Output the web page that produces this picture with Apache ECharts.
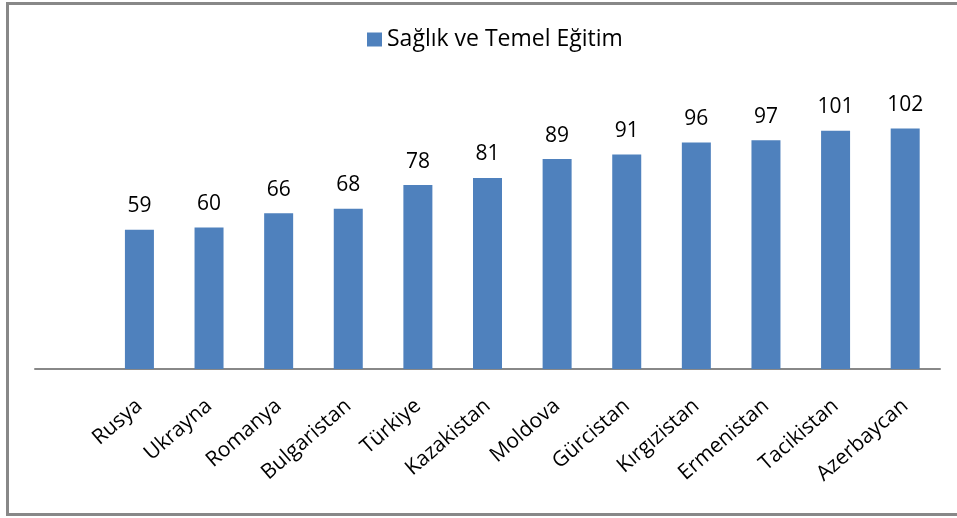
<!DOCTYPE html>
<html>
<head>
<meta charset="utf-8">
<script src="https://cdn.jsdelivr.net/npm/echarts@6/dist/echarts.min.js"></script>
<style>
    html, body { margin: 0; padding: 0; background: #fff; overflow: hidden; }
    #frame { position: absolute; left: 6px; top: 2px; width: 960px; height: 514px; border: 3px solid #888; border-right: none; box-sizing: border-box; }
    #chart { position: absolute; left: 0; top: 0; width: 957px; height: 518px; }
</style>
</head>
<body>
<div id="frame"></div>
<div id="chart"></div>
<script>
var seriesName = 'Sağlık ve Temel Eğitim';
var countries = ['Rusya', 'Ukrayna', 'Romanya', 'Bulgaristan', 'Türkiye', 'Kazakistan', 'Moldova', 'Gürcistan', 'Kırgızistan', 'Ermenistan', 'Tacikistan', 'Azerbaycan'];
var scores = [59, 60, 66, 68, 78, 81, 89, 91, 96, 97, 101, 102];

// the original chart keeps an empty slot before the first country
var axisData = [''].concat(countries);
var barData = [null].concat(scores);

var option = {
    animation: false,
    textStyle: { fontFamily: 'Open Sans' },
    legend: {
        top: 23,
        left: 362,
        icon: 'rect',
        itemWidth: 15,
        itemHeight: 14,
        itemGap: 5,
        textStyle: { fontSize: 23, color: '#000' },
        data: [seriesName]
    },
    grid: { left: 35, right: 17, top: 86, bottom: 149 },
    xAxis: {
        type: 'category',
        data: axisData,
        axisLine: { lineStyle: { color: '#888', width: 2 } },
        axisTick: { show: false },
        axisLabel: { rotate: 41, margin: 34, fontSize: 21, color: '#000', interval: 0 }
    },
    yAxis: {
        type: 'value',
        min: 0,
        max: 120,
        show: false
    },
    series: [{
        name: seriesName,
        type: 'bar',
        data: barData,
        barWidth: 29,
        itemStyle: { color: '#4f81bd' },
        label: { show: true, position: 'top', distance: 13, fontSize: 21, color: '#000' }
    }]
};

var myChart = echarts.init(document.getElementById('chart'));
myChart.setOption(option);
</script>
</body>
</html>
